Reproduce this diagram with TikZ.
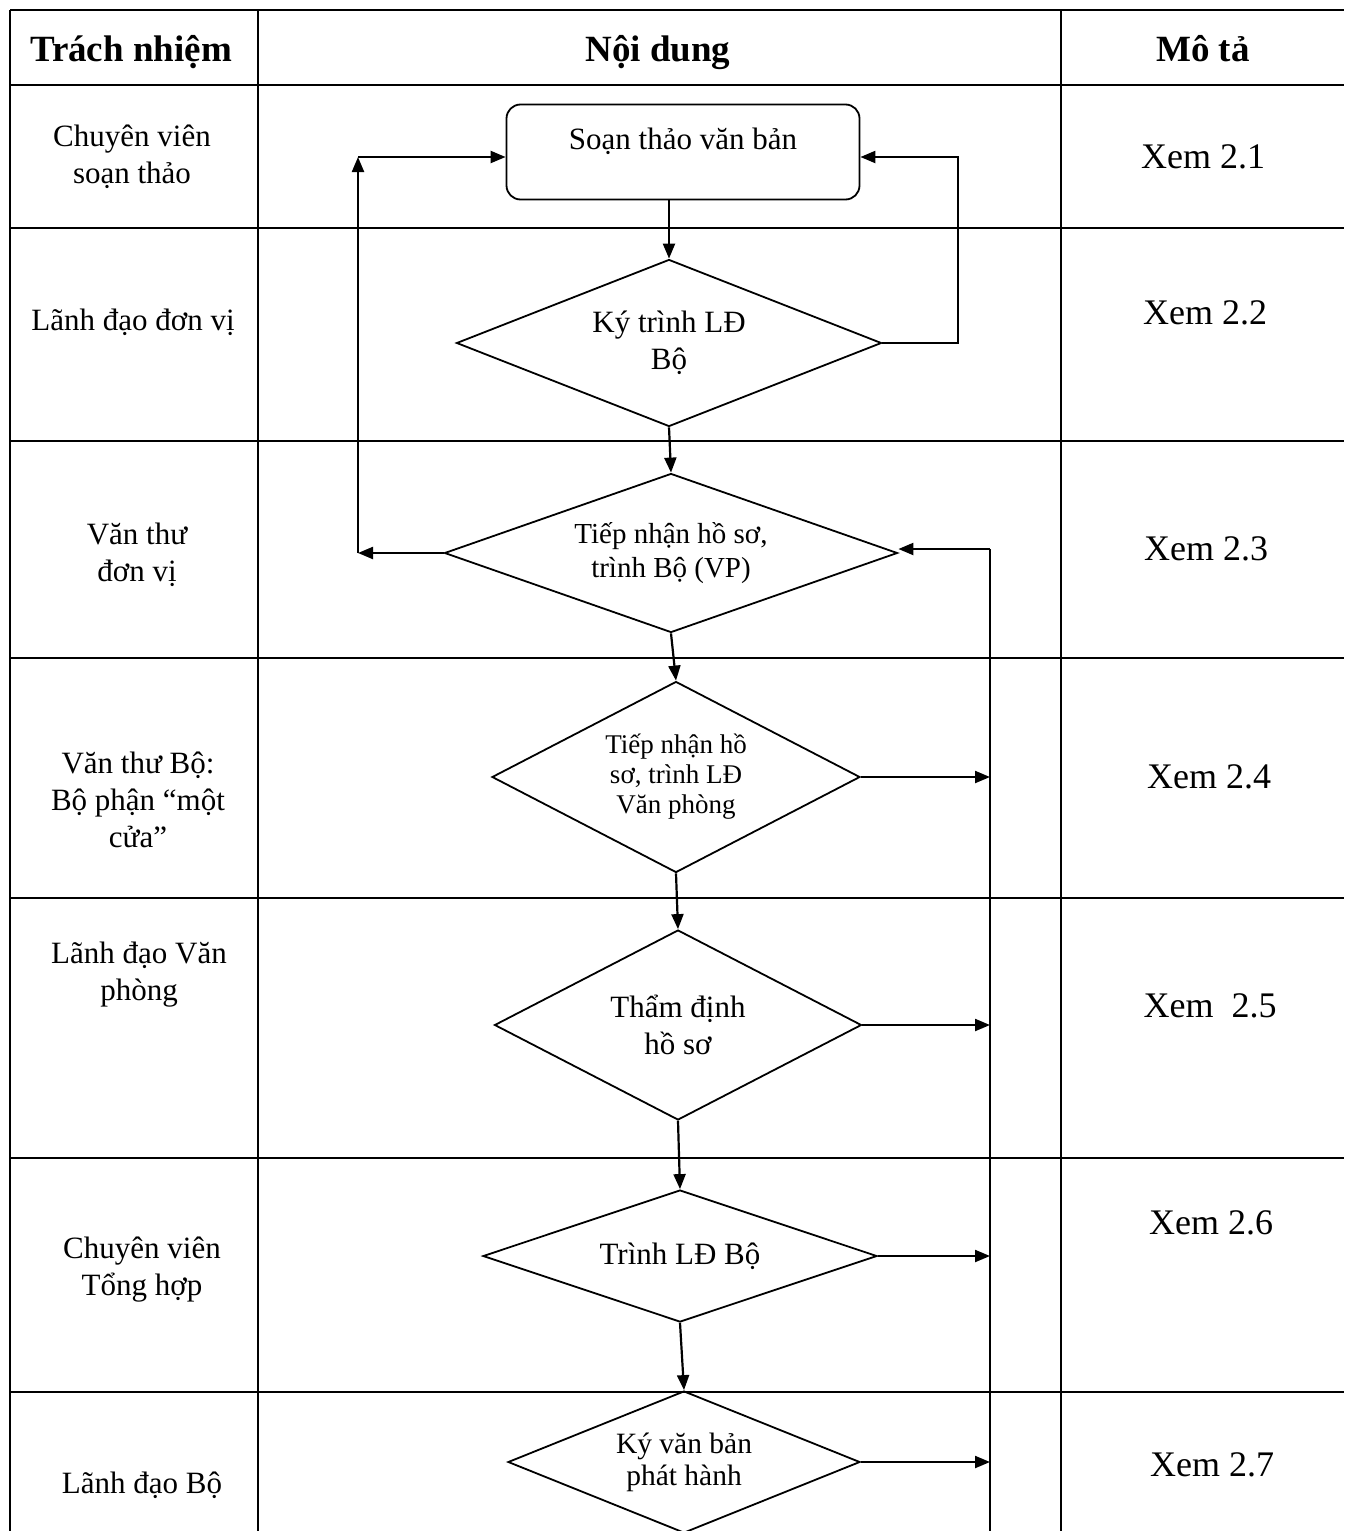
\documentclass[tikz,border=0pt]{standalone}
\usepackage{fontspec}
\setmainfont{Liberation Serif}
\usetikzlibrary{arrows.meta}
\usetikzlibrary{shapes.geometric}

\begin{document}
\begin{tikzpicture}[x=1pt, y=-1pt,
	grid/.style={line width=1.5pt},
	head/.style={anchor=base, font=\bfseries\fontsize{37}{42}\selectfont},
	who/.style={align=center, font=\fontsize{31}{37}\selectfont},
	seeref/.style={font=\fontsize{36}{40}\selectfont},
	decision/.style={diamond, draw, line width=1.8pt, inner sep=0pt, align=center, font=\fontsize{31}{37}\selectfont},
	flow/.style={line width=2.2pt, -{Triangle[length=15pt,width=12pt]}},
	bus/.style={line width=2.2pt}
]
\useasboundingbox (0,0) rectangle (1344,1531);
\fill[white] (0,0) rectangle (1344,1531);
\clip (0,0) rectangle (1344,1531);

% table
\draw[grid] (10,10) -- (1344,10);
\foreach \y in {85,228,441,658,898,1158,1392}
	\draw[grid] (10,\y) -- (1344,\y);
\foreach \x in {10,258,1061}
	\draw[grid] (\x,10) -- (\x,1531);

% header
\node[head] (hWho) at (131,61) {Trách nhiệm};
\node[head] (hWhat) at (658,61) {Nội dung};
\node[head] (hRef) at (1203,61) {Mô tả};

% responsibility column
\node[who] (w1) at (132,157) {Chuyên viên\\soạn thảo};
\node[who] (w2) at (133,322) {Lãnh đạo đơn vị};
\node[who] (w3) at (137,555) {Văn thư\\đơn vị};
\node[who] (w4) at (138,800) {Văn thư Bộ:\\Bộ phận “một\\cửa”};
\node[who] (w5) at (139,975) {Lãnh đạo Văn\\phòng};
\node[who] (w6) at (142,1270) {Chuyên viên\\Tổng hợp};
\node[who] (w7) at (142,1485) {Lãnh đạo Bộ};

% description column
\node[seeref] (x1) at (1203,157) {Xem 2.1};
\node[seeref] (x2) at (1205,313) {Xem 2.2};
\node[seeref] (x3) at (1206,549) {Xem 2.3};
\node[seeref] (x4) at (1209,777) {Xem 2.4};
\node[seeref] (x5) at (1210,1006) {Xem~~2.5};
\node[seeref] (x6) at (1211,1223) {Xem 2.6};
\node[seeref] (x7) at (1212,1465) {Xem 2.7};

% process steps
\node[draw, rounded corners=14pt, line width=1.8pt, minimum width=353pt, inner sep=0pt,
	text height=45pt, text depth=50pt, font=\fontsize{31}{37}\selectfont] (draft) at (683,152) {Soạn thảo văn bản};
\node[decision, aspect=2.545, minimum width=425pt, minimum height=167pt] (sign) at (669,343) {Ký trình LĐ\\Bộ};
\node[decision, aspect=2.849, minimum width=453pt, minimum height=159pt, font=\fontsize{29}{34}\selectfont] (recv) at (671,553) {Tiếp nhận hồ sơ,\\trình Bộ (VP)};
\node[decision, aspect=1.927, minimum width=368pt, minimum height=191pt, font=\fontsize{27}{30}\selectfont] (front) at (676,777) {Tiếp nhận hồ\\sơ, trình LĐ\\Văn phòng};
\node[decision, aspect=1.932, minimum width=367pt, minimum height=190pt] (check) at (678,1025) {Thẩm định\\hồ sơ};
\node[decision, aspect=2.985, minimum width=394pt, minimum height=132pt] (submit) at (680,1256) {Trình LĐ Bộ};
\node[decision, aspect=2.479, minimum width=352pt, minimum height=142pt, font=\fontsize{29.5}{32}\selectfont] (issue) at (684,1462) {Ký văn bản\\phát hành};

% loop corners and the return line
\coordinate (backL) at (358,553);
\coordinate (backLT) at (358,157);
\coordinate (backRT) at (958,157);
\coordinate (busTop) at (990,549);
\coordinate (busEnd) at (990,1531);

% main flow
\draw[flow] (sign.north |- draft.south) -- (sign.north);
\draw[flow] (sign.south) -- (recv.north);
\draw[flow] (recv.south) -- (front.north);
\draw[flow] (front.south) -- (check.north);
\draw[flow] (check.south) -- (submit.north);
\draw[flow] (submit.south) -- (issue.north);

% back to drafting
\draw[flow] (sign.east) -| (backRT) -- (backRT -| draft.east);
\draw[flow] (recv.west) -- (backL);
\draw[flow] (backL) -- (backLT);
\draw[flow] (backLT) -- (backLT -| draft.west);

% return line on the right
\draw[bus] (busEnd) -- (busTop);
\draw[flow] (busTop) -- (busTop -| recv.east);
\draw[flow] (front.east) -- (front.east -| busTop);
\draw[flow] (check.east) -- (check.east -| busTop);
\draw[flow] (submit.east) -- (submit.east -| busTop);
\draw[flow] (issue.east) -- (issue.east -| busTop);
\end{tikzpicture}
\end{document}
